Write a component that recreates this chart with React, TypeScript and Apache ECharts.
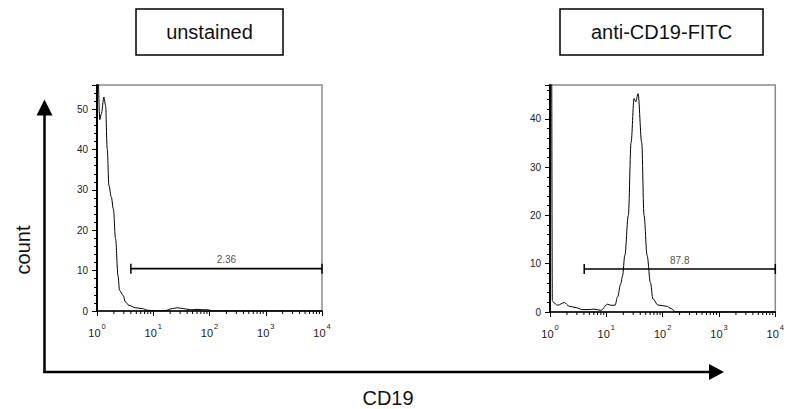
import { useEffect, useRef } from "react";
import * as echarts from "echarts";

// ---- data ----
const panelTitles = ["unstained", "anti-CD19-FITC"];
const gateLabels = ["2.36", "87.8"];
const gateStart = [4.0, 4.05];
const gateEnd = [10000, 10000];
const gateLevel = [10.5, 8.9];
const yMax = [56, 47];

const unstainedX = [1.05, 1.12, 1.19, 1.33, 1.42, 1.52, 1.63, 1.8, 1.95, 2.14, 2.36, 2.52, 2.9, 3.22, 3.7, 4.85, 6.38, 7.82, 10.8, 16.3, 21.8, 26.7, 34, 45.5, 60, 77, 95, 112, 10000];
const unstainedY = [60, 47.4, 48.8, 53, 50.9, 40.2, 31.1, 28.2, 25.3, 17.9, 8.8, 5.1, 3.9, 2.2, 1.4, 0.8, 0.6, 0.2, 0.05, 0.1, 0.6, 0.8, 0.6, 0.3, 0.4, 0.3, 0.3, 0, 0];

const stainedX = [1.07, 1.1, 1.17, 1.37, 1.79, 2.2, 2.88, 3.79, 4.96, 6.0, 8.0, 10.5, 12.0, 14.3, 15.8, 18.1, 19.4, 21.3, 24.6, 27.5, 31.1, 33.3, 36.6, 42.5, 46.7, 53, 60.6, 67.3, 82.6, 116, 143, 170, 10000];
const stainedY = [60, 2.4, 1.9, 1.4, 1.95, 1.2, 0.9, 0.5, 0.5, 0.6, 0.35, 1.6, 1.4, 1.4, 3.1, 5.9, 7.5, 11.7, 20, 35.1, 44.2, 43.5, 45.2, 35.1, 20, 11.7, 6.1, 2.7, 1.45, 1.2, 0.7, 0, 0];

const minorLogTicks = [2, 3, 4, 5, 6, 7, 8, 9, 20, 30, 40, 50, 60, 70, 80, 90, 200, 300, 400, 500, 600, 700, 800, 900, 2000, 3000, 4000, 5000, 6000, 7000, 8000, 9000];

const FONT = "Liberation Sans, Arial, sans-serif";

function zip(xs: number[], ys: number[]) {
  return xs.map((x, i) => [x, ys[i]]);
}

function buildOption() {
  const grids = [
    { left: 97, top: 85, width: 225, height: 226 },
    { left: 550, top: 85, width: 226, height: 227 },
  ];
  const hist = [zip(unstainedX, unstainedY), zip(stainedX, stainedY)];

  const grid = grids.map((g) => ({
    ...g,
    show: true,
    borderColor: "#8c8c8c",
    borderWidth: 1.5,
    backgroundColor: "transparent",
  }));

  const xAxis = grids.map((_, i) => ({
    type: "log",
    logBase: 10,
    min: 1,
    max: 10000,
    gridIndex: i,
    axisLine: { show: true, lineStyle: { color: "#000", width: 1.5 } },
    axisTick: { show: true, length: 5, lineStyle: { color: "#000", width: 1 } },
    minorTick: { show: false },
    splitLine: { show: false },
    axisLabel: {
      margin: 9,
      fontSize: 11,
      color: "#222",
      formatter: (v: number) => `{b|10}{s|${Math.round(Math.log10(v))}}`,
      rich: {
        b: { fontSize: 11, color: "#222", fontFamily: FONT, padding: [7, 0, 0, 0] },
        s: { fontSize: 7.5, color: "#222", fontFamily: FONT, padding: [0, 0, 6, 1] },
      },
    },
  }));

  const yAxis = grids.map((_, i) => ({
    type: "value",
    min: 0,
    max: yMax[i],
    interval: 10,
    gridIndex: i,
    axisLine: { show: true, lineStyle: { color: "#000", width: 2 } },
    axisTick: { show: true, length: 5, lineStyle: { color: "#000", width: 1 } },
    minorTick: { show: true, splitNumber: 5, length: 3, lineStyle: { color: "#000", width: 1 } },
    splitLine: { show: false },
    axisLabel: {
      fontSize: 10,
      color: "#222",
      fontFamily: FONT,
      margin: 9,
      showMaxLabel: false,
      formatter: (v: number) => (v % 10 === 0 ? String(v) : ""),
    },
  }));

  const series: any[] = [];
  grids.forEach((_, i) => {
    series.push({
      type: "line",
      xAxisIndex: i,
      yAxisIndex: i,
      data: hist[i],
      symbol: "none",
      showSymbol: false,
      smooth: 0.35,
      smoothMonotone: "x",
      clip: true,
      lineStyle: { color: "#000", width: 1 },
      silent: true,
      z: 5,
    });
    series.push({
      type: "line",
      xAxisIndex: i,
      yAxisIndex: i,
      data: [
        [gateStart[i], gateLevel[i]],
        [gateEnd[i], gateLevel[i]],
      ],
      symbol: "rect",
      symbolSize: [1.5, 10],
      itemStyle: { color: "#000" },
      lineStyle: { color: "#000", width: 1.6 },
      clip: false,
      silent: true,
    });
    series.push({
      type: "scatter",
      xAxisIndex: i,
      yAxisIndex: i,
      data: [[Math.sqrt(gateStart[i] * gateEnd[i]), gateLevel[i]]],
      symbolSize: 0,
      label: {
        show: true,
        position: "top",
        distance: 4,
        formatter: gateLabels[i],
        fontSize: 10,
        color: "#222",
        fontFamily: FONT,
      },
      silent: true,
    });
    series.push({
      type: "custom",
      xAxisIndex: i,
      yAxisIndex: i,
      data: minorLogTicks.map((v) => [v, 0]),
      clip: false,
      silent: true,
      renderItem: (_p: any, api: any) => {
        const pt = api.coord([api.value(0), 0]);
        return {
          type: "line",
          shape: { x1: pt[0], y1: pt[1], x2: pt[0], y2: pt[1] + 3 },
          style: { stroke: "#000", lineWidth: 1 },
        };
      },
    });
  });

  const titleBoxes = [
    { x: 136, y: 9, w: 147, h: 46 },
    { x: 560, y: 9, w: 203, h: 46 },
  ];

  const graphic: any[] = [];
  titleBoxes.forEach((b, i) => {
    graphic.push({
      type: "rect",
      shape: { x: b.x, y: b.y, width: b.w, height: b.h },
      style: { fill: "#fff", stroke: "#000", lineWidth: 1.5 },
      silent: true,
    });
    graphic.push({
      type: "text",
      x: b.x + b.w / 2,
      y: b.y + b.h / 2,
      style: {
        text: panelTitles[i],
        fontSize: 20,
        fontFamily: FONT,
        fill: "#111",
        align: "center",
        verticalAlign: "middle",
      },
      silent: true,
    });
  });
  // big axes arrows
  graphic.push({
    type: "line",
    shape: { x1: 44.5, y1: 373, x2: 44.5, y2: 112 },
    style: { stroke: "#000", lineWidth: 2.5 },
    silent: true,
  });
  graphic.push({
    type: "polygon",
    shape: { points: [[36.5, 115.5], [52.5, 115.5], [44.5, 99.5]] },
    style: { fill: "#000" },
    silent: true,
  });
  graphic.push({
    type: "line",
    shape: { x1: 43.3, y1: 372, x2: 712, y2: 372 },
    style: { stroke: "#000", lineWidth: 2.5 },
    silent: true,
  });
  graphic.push({
    type: "polygon",
    shape: { points: [[709, 364], [709, 380], [724, 372]] },
    style: { fill: "#000" },
    silent: true,
  });
  graphic.push({
    type: "text",
    x: 23,
    y: 250,
    rotation: Math.PI / 2,
    style: {
      text: "count",
      fontSize: 20,
      fontFamily: FONT,
      fill: "#111",
      align: "center",
      verticalAlign: "middle",
    },
    silent: true,
  });
  graphic.push({
    type: "text",
    x: 388,
    y: 398,
    style: {
      text: "CD19",
      fontSize: 20,
      fontFamily: FONT,
      fill: "#111",
      align: "center",
      verticalAlign: "middle",
    },
    silent: true,
  });

  return {
    animation: false,
    backgroundColor: "#fff",
    textStyle: { fontFamily: FONT },
    grid,
    xAxis,
    yAxis,
    series,
    graphic,
  };
}

export default function App() {
  const ref = useRef<HTMLDivElement>(null);
  useEffect(() => {
    if (!ref.current) return;
    const chart = echarts.init(ref.current, null, { renderer: "svg" });
    chart.setOption(buildOption() as any);
    return () => chart.dispose();
  }, []);
  return (
    <div
      ref={ref}
      style={{ position: "fixed", left: 0, top: 0, width: 787, height: 409 }}
    />
  );
}
